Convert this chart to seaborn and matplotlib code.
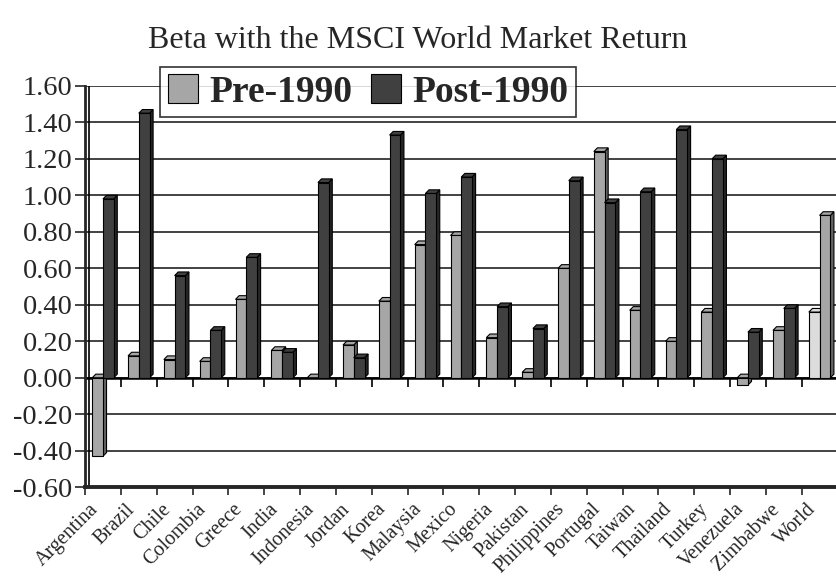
import numpy as np
import pandas as pd
import matplotlib
matplotlib.use("Agg")
import matplotlib.pyplot as plt
import seaborn as sns

# Betas
countries = ["Argentina", "Brazil", "Chile", "Colombia", "Greece", "India",
             "Indonesia", "Jordan", "Korea", "Malaysia", "Mexico", "Nigeria",
             "Pakistan", "Philippines", "Portugal", "Taiwan", "Thailand",
             "Turkey", "Venezuela", "Zimbabwe", "World"]
pre_1990 = [-0.43, 0.12, 0.10, 0.09, 0.43, 0.15, 0.00, 0.18, 0.42, 0.73, 0.78,
            0.22, 0.03, 0.60, 1.24, 0.37, 0.20, 0.36, -0.04, 0.26, 0.36]
post_1990 = [0.98, 1.45, 0.56, 0.26, 0.66, 0.14, 1.07, 0.11, 1.33, 1.01, 1.10,
             0.39, 0.27, 1.08, 0.96, 1.02, 1.36, 1.20, 0.25, 0.38, 0.89]
y_ticks = [-0.60, -0.40, -0.20, 0.00, 0.20, 0.40, 0.60, 0.80, 1.00, 1.20, 1.40, 1.60]

df = pd.DataFrame({"country": countries * 2,
                   "beta": pre_1990 + post_1990,
                   "period": ["Pre-1990"] * len(countries) + ["Post-1990"] * len(countries)})

sns.set_style("white")
plt.rcParams["font.family"] = ["Liberation Serif", "DejaVu Serif"]
plt.rcParams["axes.unicode_minus"] = False

fig = plt.figure(figsize=(8.36, 5.76), dpi=100)
ax = fig.add_axes([0.1017, 0.154, 0.9001, 0.697])

colors = {"Pre-1990": "#a6a6a6", "Post-1990": "#404040"}
sns.barplot(data=df, x="country", y="beta", hue="period", palette=colors,
            width=0.6, edgecolor="black", linewidth=0.8, ax=ax, zorder=3)

# World bars are shaded lighter in the original
ax.containers[0][-1].set_facecolor("#dcdcdc")
ax.containers[1][-1].set_facecolor("#a6a6a6")

# fake 3D depth: a side face and a cap on every bar
dx, dy = 0.1, 0.02
for k, cont in enumerate(ax.containers):
    for p in cont:
        x0, w = p.get_x(), p.get_width()
        y0, h = p.get_y(), p.get_height()
        lo, hi = min(y0, y0 + h), max(y0, y0 + h)
        fc = p.get_facecolor()
        dark = tuple(c * 0.6 for c in fc[:3])
        z = 3 + k
        ax.fill([x0 + w, x0 + w + dx, x0 + w + dx, x0 + w],
                [lo, lo + dy, hi + dy, hi], color=dark, ec="black", lw=0.8, zorder=z)
        ax.fill([x0, x0 + dx, x0 + w + dx, x0 + w],
                [hi, hi + dy, hi + dy, hi], color=fc, ec="black", lw=0.8, zorder=z)
        p.set_zorder(z + 0.5)

ax.set_ylim(-0.60, 1.60)
ax.set_xlim(-0.5, len(countries) - 0.5)
ax.set_yticks(y_ticks)
ax.set_yticklabels([f"{t:.2f}" for t in y_ticks], fontsize=20.5)
ax.tick_params(axis="y", length=7, width=1.2, direction="out", left=True, pad=2)

bounds = np.arange(len(countries) + 1) - 0.5
ax.set_xticks(bounds)
ax.set_xticklabels([])
# labels sit a bit left of the category centre, like the original
ax.set_xticks(np.arange(len(countries)) - 0.38, minor=True)
ax.set_xticklabels(countries, minor=True, rotation=45, ha="right",
                   rotation_mode="anchor", fontsize=14.5)
ax.tick_params(axis="x", which="major", length=6, width=1.2, bottom=True)
ax.tick_params(axis="x", which="minor", length=0, pad=9)
ax.vlines(bounds, -0.05, 0.0, color="black", lw=1.2, zorder=2)

ax.set_xlabel("")
ax.set_ylabel("")
ax.yaxis.grid(True, color="#222222", lw=1.2, zorder=0)
ax.set_axisbelow(True)
ax.axhline(0, color="black", lw=1.8, zorder=2)
ax.axvline(-0.5 + dx, color="black", lw=1.2, zorder=2)
for s in ["top", "right"]:
    ax.spines[s].set_visible(False)
ax.spines["left"].set_linewidth(2.0)
ax.spines["bottom"].set_linewidth(2.8)

leg = ax.legend(loc="upper left", bbox_to_anchor=(0.1, 1.047), ncol=2,
                frameon=True, fancybox=False, handlelength=0.8, handleheight=0.8,
                handletextpad=0.3, columnspacing=0.5, borderpad=0.2,
                borderaxespad=0, prop={"size": 27, "weight": "bold"})
leg.get_frame().set_edgecolor("black")
leg.get_frame().set_linewidth(1.2)
leg.set_zorder(10)

fig.text(0.5, 1 - 40 / 576, "Beta with the MSCI World Market Return",
         ha="center", va="center", fontsize=23)

fig.savefig("out.png", dpi=100)
